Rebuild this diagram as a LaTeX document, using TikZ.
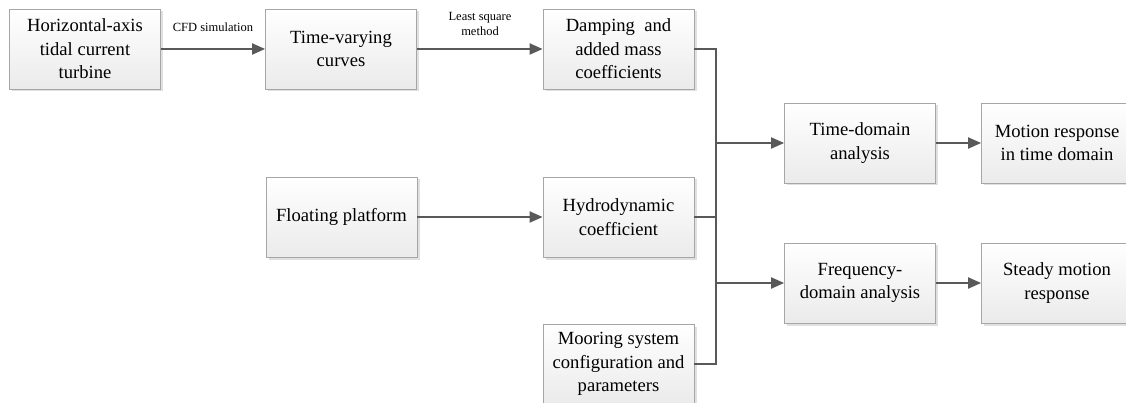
\documentclass[tikz,border=0pt]{standalone}
\usepackage{fontspec}
\setmainfont{Liberation Serif}
\newfontfamily\tnrfont{Liberation Serif}
\usetikzlibrary{arrows.meta,shadows,calc}
\definecolor{linec}{HTML}{595959}
\definecolor{boxborder}{HTML}{A6A6A6}
\tikzset{
  stepbox/.style={draw=boxborder, line width=0.8pt, top color=white, bottom color=black!8,
    minimum width=151pt, minimum height=80pt, align=center, inner sep=2pt,
    font=\tnrfont\fontsize{18.6}{23.5}\selectfont,
    drop shadow={shadow xshift=2.5pt, shadow yshift=-2.5pt, fill=black!12, opacity=1}},
  conn/.style={draw=linec, line width=2pt},
  arr/.style={conn, -{Triangle[length=13pt,width=11pt]}},
  lbl/.style={font=\tnrfont\fontsize{12.5}{15}\selectfont, align=center, inner sep=0pt},
}
\begin{document}
\begin{tikzpicture}[x=1pt,y=-1pt]
\useasboundingbox[fill=white] (0,0) rectangle (1126,403);
\node[stepbox] (b1) at (85,49) {Horizontal-axis\\tidal current\\turbine};
\node[stepbox] (b2) at (341,49) {Time-varying\\curves};
\node[stepbox] (b3) at (618.5,49) {Damping~ and\\added mass\\coefficients};
\node[stepbox] (fp) at (341.5,217) {Floating platform};
\node[stepbox] (hc) at (618.5,217) {Hydrodynamic\\coefficient};
\node[stepbox] (mo) at (618.5,364) {Mooring system\\configuration and\\parameters};
\node[stepbox] (td) at (860,143) {Time-domain\\analysis};
\node[stepbox] (mr) at (1057,143) {Motion response\\in time domain};
\node[stepbox] (fd) at (860,283) {Frequency-\\domain analysis};
\node[stepbox] (sm) at (1057,283) {Steady motion\\response};
\node[lbl] (l1) at (213,27) {CFD simulation};
\node[lbl] (l2) at (480,24) {Least square\\method};
\coordinate (bt) at (716,49);
\coordinate (bb) at (716,364);
\coordinate (bh) at (716,217);
\coordinate (btd) at (716,143);
\coordinate (bfd) at (716,283);
\draw[arr] (b1) -- (b2);
\draw[arr] (b2) -- (b3);
\draw[arr] (fp) -- (hc);
\draw[conn] (b3.east) -- (bt) -- (bb) -- (mo.east);
\draw[conn] (hc.east) -- (bh);
\draw[arr] (btd) -- (td.west);
\draw[arr] (bfd) -- (fd.west);
\draw[arr] (td) -- (mr);
\draw[arr] (fd) -- (sm);
\end{tikzpicture}
\end{document}
